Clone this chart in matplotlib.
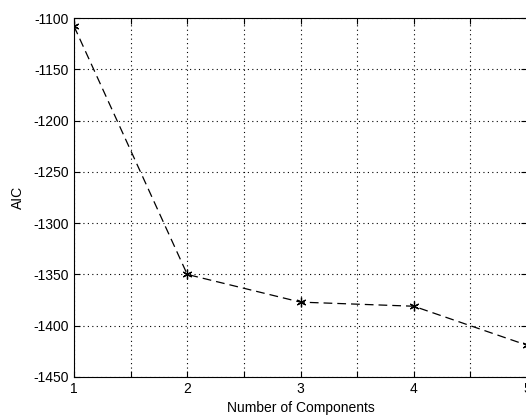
import numpy as np
import matplotlib
matplotlib.use('Agg')
import matplotlib.pyplot as plt

n_components = [1, 2, 3, 4, 5]
aic = [-1108, -1350, -1377, -1381, -1419]

plt.rcParams['font.family'] = ['Liberation Sans', 'DejaVu Sans']
plt.rcParams['axes.unicode_minus'] = False

fig = plt.figure(figsize=(5.26, 4.16), dpi=100)
# axes runs past the right edge, as in the cropped original
ax = fig.add_axes([74/526, 1 - 377/416, 453/526, 359/416])

ax.plot(n_components, aic, linestyle='--', color='black', linewidth=0.9,
        marker=(6, 2, 0), markersize=7, markeredgewidth=0.9, dashes=(7, 4))

ax.set_xlim(1, 5)
ax.set_ylim(-1450, -1100)

xt = np.arange(1, 5.01, 0.5)
ax.set_xticks(xt)
ax.set_xticklabels([str(int(v)) if v == int(v) else '' for v in xt])
ax.set_yticks(np.arange(-1450, -1099, 50))

ax.grid(True, linestyle=(0, (1, 3)), color='black', linewidth=0.8)
ax.tick_params(direction='in', top=True, right=True, length=4, labelsize=10)

for s in ax.spines.values():
    s.set_linewidth(0.8)

ax.set_xlabel("Number of Components", fontsize=10, labelpad=4)
ax.set_ylabel("AIC", fontsize=10, labelpad=6)

fig.savefig("out.png", dpi=100)
